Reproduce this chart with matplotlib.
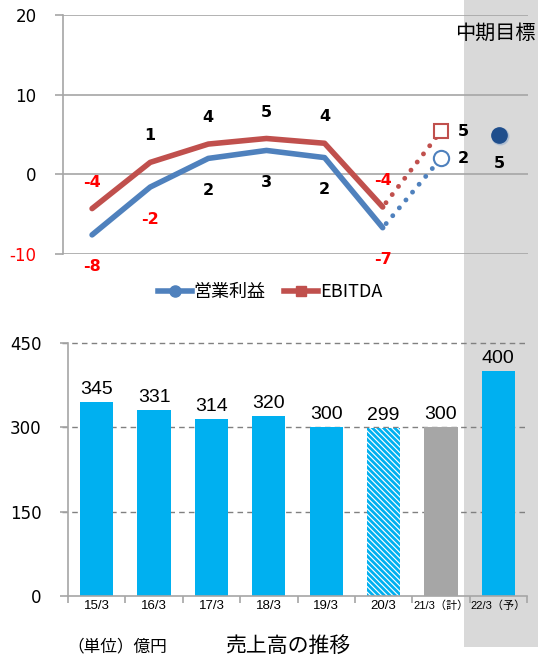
import matplotlib
matplotlib.use('Agg')
import matplotlib.pyplot as plt
from matplotlib.patches import Rectangle
from matplotlib.lines import Line2D

plt.rcParams['font.family'] = ['DejaVu Sans', 'Noto Sans CJK JP']
plt.rcParams['axes.unicode_minus'] = False
plt.rcParams['hatch.linewidth'] = 2.0

categories = ['15/3', '16/3', '17/3', '18/3', '19/3', '20/3', '21/3（計）', '22/3（予）']
sales = [345, 331, 314, 320, 300, 299, 300, 400]

op_actual = [-7.6, -1.6, 2.0, 3.0, 2.1, -6.7]
op_labels = ['-8', '-2', '2', '3', '2', '-7']
ebitda_actual = [-4.3, 1.5, 3.8, 4.5, 3.9, -4.1]
ebitda_labels = ['-4', '1', '4', '5', '4', '-4']
op_plan = 2.0
ebitda_plan = 5.4
op_target = 5.0

BLUE = '#4F81BD'
RED = '#C0504D'
CYAN = '#00B0F0'
GRID = '#A6A6A6'

W, H = 544, 661
fig = plt.figure(figsize=(W / 100, H / 100), dpi=100)


def fx(px):
    return px / W


def fy(py):
    return 1 - py / H


# background axes holding the gray band for the mid-term target
bg = fig.add_axes([0, 0, 1, 1], zorder=-1)
bg.set_xlim(0, W)
bg.set_ylim(H, 0)
bg.axis('off')
bg.add_patch(Rectangle((464, 0), 74, 647, color='#D9D9D9', lw=0))
bg.text(495, 33, '中期目標', fontsize=14.5, family=['Noto Sans CJK JP'],
        ha='center', va='center')

# ---- top: operating income / EBITDA ----
ax1 = fig.add_axes([fx(63), fy(254), fx(528) - fx(63), fy(15) - fy(254)])
ax1.patch.set_alpha(0)
ax1.set_xlim(-0.5, 7.5)
ax1.set_ylim(-10, 20)
ax1.set_yticks([-10, 0, 10, 20])
for y in [-10, 0, 10, 20]:
    ax1.axhline(y, color=GRID, lw=1.2, zorder=1)
for s in ['top', 'right', 'bottom']:
    ax1.spines[s].set_visible(False)
ax1.spines['left'].set_color(GRID)
ax1.spines['left'].set_linewidth(1.2)
ax1.set_xticks([])
ax1.tick_params(axis='y', length=6, color=GRID, width=1.2, labelsize=12, pad=13)
ax1.get_yticklabels()[0].set_color('red')

xa = list(range(len(op_actual)))
ax1.plot(xa, op_actual, color=BLUE, lw=4, solid_capstyle='round', zorder=3)
ax1.plot(xa, ebitda_actual, color=RED, lw=4, solid_capstyle='round', zorder=3)
ax1.plot([5, 6], [op_actual[-1], op_plan], color=BLUE, lw=3.5,
         linestyle=(1, (0.01, 2.1)), dash_capstyle='round', zorder=3)
ax1.plot([5, 6], [ebitda_actual[-1], ebitda_plan], color=RED, lw=3.5,
         linestyle=(1, (0.01, 2.1)), dash_capstyle='round', zorder=3)
ax1.plot(6, op_plan, 'o', ms=11, mfc='white', mec=BLUE, mew=1.5, zorder=4)
ax1.plot(6, ebitda_plan, 's', ms=10, mfc='white', mec=RED, mew=1.5, zorder=4)
ax1.plot(7.02, op_target - 0.25, 'o', ms=12, color='#9FB4CF', alpha=0.6, zorder=4)
ax1.plot(7, op_target, 'o', ms=11, color='#1F4E8C', zorder=5)

for i, (v, t) in enumerate(zip(op_actual, op_labels)):
    ax1.annotate(t, (i, v), xytext=(0, -23), textcoords='offset points',
                 ha='center', va='center', fontsize=11.5, fontweight='bold',
                 color='red' if t.startswith('-') else 'black')
for i, (v, t) in enumerate(zip(ebitda_actual, ebitda_labels)):
    ax1.annotate(t, (i, v), xytext=(0, 19), textcoords='offset points',
                 ha='center', va='center', fontsize=11.5, fontweight='bold',
                 color='red' if t.startswith('-') else 'black')
ax1.annotate('5', (6, ebitda_plan), xytext=(16, 0), textcoords='offset points',
             ha='center', va='center', fontsize=11.5, fontweight='bold')
ax1.annotate('2', (6, op_plan), xytext=(16, 0), textcoords='offset points',
             ha='center', va='center', fontsize=11.5, fontweight='bold')
ax1.annotate('5', (7, op_target), xytext=(0, -21), textcoords='offset points',
             ha='center', va='center', fontsize=11.5, fontweight='bold')

handles = [Line2D([], [], color=BLUE, lw=4, marker='o', ms=8),
           Line2D([], [], color=RED, lw=4, marker='s', ms=7)]
fig.legend(handles, ['営業利益', 'EBITDA'], loc='center', bbox_to_anchor=(fx(270), fy(292)),
           ncol=2, frameon=False, handlelength=1.9, handletextpad=0.1, columnspacing=1.0,
           prop={'family': ['Noto Sans CJK JP'], 'size': 13})

# ---- bottom: sales ----
ax2 = fig.add_axes([fx(68), fy(596), fx(527) - fx(68), fy(343) - fy(596)])
ax2.patch.set_alpha(0)
ax2.set_xlim(-0.5, 7.5)
ax2.set_ylim(0, 450)
ax2.set_yticks([0, 150, 300, 450])
for y in [150, 300, 450]:
    ax2.axhline(y, color='#808080', lw=1, ls=(0, (4, 3)), zorder=1, xmin=-0.013, clip_on=False)
for s in ['top', 'right']:
    ax2.spines[s].set_visible(False)
for s in ['left', 'bottom']:
    ax2.spines[s].set_color(GRID)
    ax2.spines[s].set_linewidth(1.2)
ax2.tick_params(axis='y', length=6, color=GRID, width=1.2, labelsize=12, pad=13)

colors = [CYAN] * 5 + ['white', '#A6A6A6', CYAN]
bars = ax2.bar(range(len(sales)), sales, width=0.58, color=colors, zorder=2)
bars[5].set_hatch('\\\\\\\\\\\\')
bars[5].set_edgecolor(CYAN)
bars[5].set_linewidth(0)
for i, v in enumerate(sales):
    ax2.annotate(str(v), (i, v), xytext=(0, 3), textcoords='offset points',
                 ha='center', va='bottom', fontsize=14, family=['Liberation Sans'])

ax2.set_xticks([i + 0.5 for i in range(-1, 8)])
ax2.set_xticklabels([])
ax2.tick_params(axis='x', length=5, color=GRID, width=1.2, direction='out')
for i, c in enumerate(categories):
    ax2.text(i, -17, c, ha='center', va='center', fontsize=9.5 if len(c) < 6 else 8,
             family=['Liberation Sans', 'Noto Sans CJK JP'])

fig.text(fx(117), fy(647), '（単位）億円', fontsize=12, family=['Noto Sans CJK JP'],
         ha='center', va='center')
fig.text(fx(288), fy(646), '売上高の推移', fontsize=15, family=['Noto Sans CJK JP'],
         ha='center', va='center')

fig.savefig('out.png', dpi=100)
